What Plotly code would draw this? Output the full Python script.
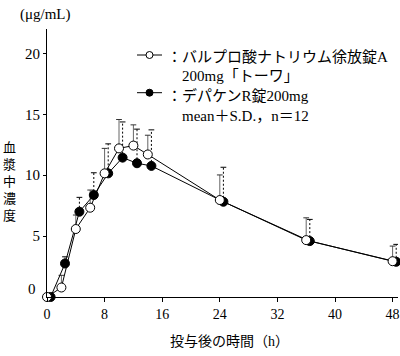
import plotly.graph_objects as go

# ---- data ----
hours = [0, 2, 4, 6, 8, 10, 12, 14, 24, 36, 48]
toowa_mean = [0, 0.78, 5.58, 7.33, 10.15, 12.2, 12.43, 11.7, 7.96, 4.67, 2.94]
toowa_sd = [0, 1.0, 1.15, 1.45, 2.05, 2.37, 1.7, 1.58, 2.06, 1.83, 1.24]
depakene_mean = [0, 2.75, 7.0, 8.37, 10.15, 11.44, 10.98, 10.76, 7.82, 4.59, 2.89]
depakene_sd = [0, 0.55, 1.18, 1.83, 2.42, 2.93, 2.8, 2.96, 2.83, 1.78, 1.43]
x_ticks = [0, 8, 16, 24, 32, 40, 48]
y_ticks = [5, 10, 15, 20]

# ---- style / layout constants ----
B_SHIFT = 0.5      # horizontal drawing offset of the reference product
CAP = 0.4          # half width of error-bar caps (h)
W, H = 400, 356
ML, MR, MT, MB = 47, 2, 29, 59
PW, PH = W - ML - MR, H - MT - MB
FONT = "Liberation Serif, Noto Sans CJK JP"


def px(x):
    return (x - ML) / PW


def py(y):
    return (H - MB - y) / PH


def bars(xs, means, sds):
    bx, by, cx, cy = [], [], [], []
    for x, m, s in zip(xs, means, sds):
        if s <= 0:
            continue
        bx += [x, x, None]
        by += [m, m + s, None]
        cx += [x - CAP, x + CAP, None]
        cy += [m + s, m + s, None]
    return bx, by, cx, cy


xa = hours
xb = [h + B_SHIFT for h in hours]

fig = go.Figure()

# error bars (drawn first)
bbx, bby, bcx, bcy = bars(xb, depakene_mean, depakene_sd)
abx, aby, acx, acy = bars(xa, toowa_mean, toowa_sd)
fig.add_trace(go.Scatter(x=bbx, y=bby, mode="lines",
                         line=dict(color="black", width=1, dash="2px,2px"),
                         cliponaxis=False, showlegend=False, hoverinfo="skip"))
fig.add_trace(go.Scatter(x=bcx, y=bcy, mode="lines",
                         line=dict(color="black", width=1),
                         cliponaxis=False, showlegend=False, hoverinfo="skip"))
fig.add_trace(go.Scatter(x=abx, y=aby, mode="lines",
                         line=dict(color="#666666", width=1),
                         cliponaxis=False, showlegend=False, hoverinfo="skip"))
fig.add_trace(go.Scatter(x=acx, y=acy, mode="lines",
                         line=dict(color="#333333", width=1),
                         cliponaxis=False, showlegend=False, hoverinfo="skip"))

# series
fig.add_trace(go.Scatter(x=xb, y=depakene_mean, mode="lines+markers",
                         line=dict(color="black", width=1),
                         marker=dict(symbol="circle", size=9, color="black",
                                     line=dict(color="black", width=1)),
                         cliponaxis=False, showlegend=False))
fig.add_trace(go.Scatter(x=xa, y=toowa_mean, mode="lines+markers",
                         line=dict(color="black", width=1),
                         marker=dict(symbol="circle", size=9, color="white",
                                     line=dict(color="black", width=1)),
                         cliponaxis=False, showlegend=False))

fig.update_xaxes(range=[0, PW / 7.2], tickvals=x_ticks,
                 ticktext=[str(t) for t in x_ticks], automargin=False,
                 showline=True, linecolor="black", linewidth=1,
                 ticks="outside", ticklen=4, tickcolor="black",
                 showgrid=False, zeroline=False,
                 tickfont=dict(family=FONT, size=14, color="black"))
fig.update_yaxes(range=[0, 22], tickvals=y_ticks,
                 ticktext=[str(t) for t in y_ticks], automargin=False,
                 showline=True, linecolor="black", linewidth=1,
                 ticks="outside", ticklen=3, tickcolor="black",
                 showgrid=False, zeroline=False,
                 tickfont=dict(family=FONT, size=15, color="black"))

ann = []


def text(t, x, y, size=14, anchor="left"):
    ann.append(dict(text=t, x=px(x), y=py(y), xref="paper", yref="paper",
                    xanchor=anchor, yanchor="middle", showarrow=False,
                    font=dict(family=FONT, size=size, color="black")))


text("0", 32, 289, 15, "center")
text("(μg/mL)", 45, 15, 15, "center")
text("血<br>漿<br>中<br>濃<br>度", 9, 182, 13, "center")
text("投与後の時間（h）", 229, 341, 14, "center")
text("：バルプロ酸ナトリウム徐放錠A", 165, 56.7, 15)
text("200mg「トーワ」", 180, 75.7, 15)
text("：デパケンR錠200mg", 165, 95.7, 15)
text("mean＋S.D.，n＝12", 180, 116, 15)

shapes = []
for yy, fill in [(55, "white"), (92.7, "black")]:
    shapes.append(dict(type="line", xref="paper", yref="paper",
                       x0=px(137), x1=px(162), y0=py(yy), y1=py(yy),
                       line=dict(color="black", width=1)))
    shapes.append(dict(type="circle", xref="paper", yref="paper",
                       xsizemode="pixel", ysizemode="pixel",
                       xanchor=px(149.5), yanchor=py(yy),
                       x0=-3.5, x1=3.5, y0=-3.5, y1=3.5,
                       fillcolor=fill, line=dict(color="black", width=1)))

fig.update_layout(width=W, height=H,
                  margin=dict(l=ML, r=MR, t=MT, b=MB, pad=0, autoexpand=False),
                  paper_bgcolor="white", plot_bgcolor="white",
                  annotations=ann, shapes=shapes, showlegend=False)

fig.write_html("out.html", config={"displayModeBar": False},
               post_script="document.body.style.margin='0';"
                           "document.body.style.overflow='hidden';")
